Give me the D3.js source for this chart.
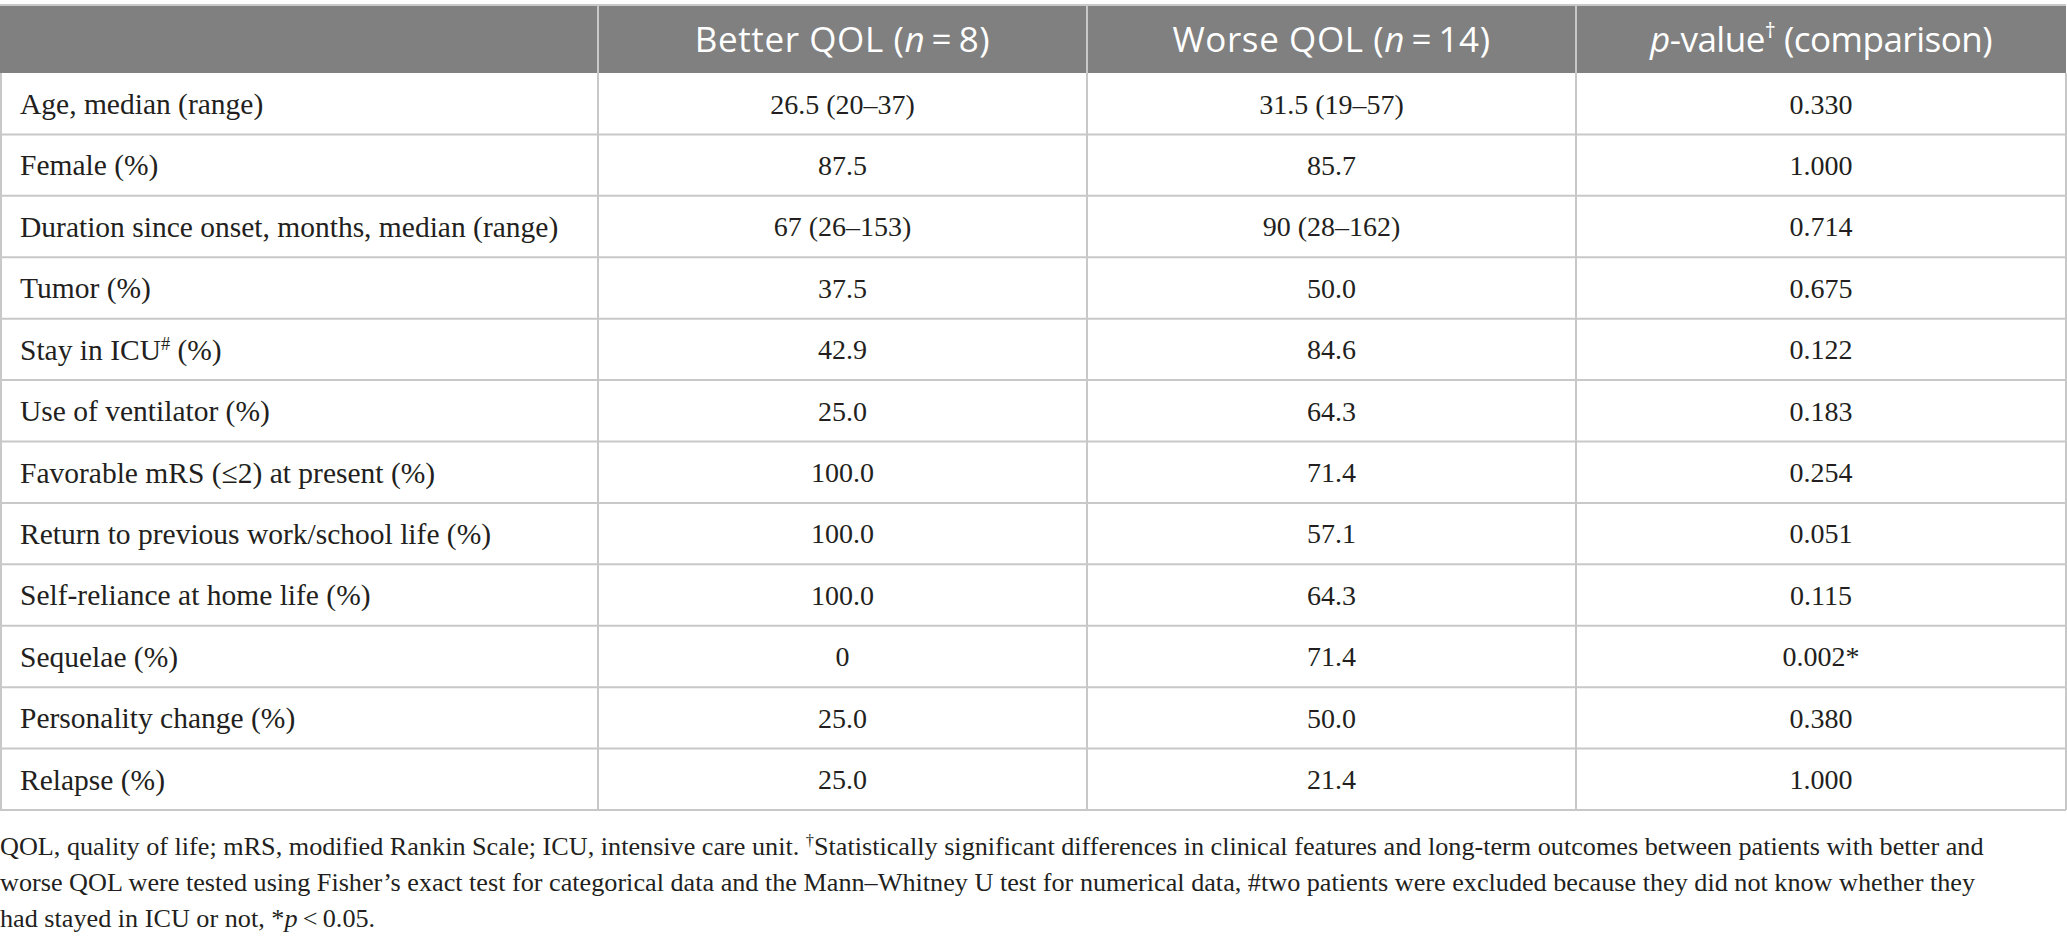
<!DOCTYPE html>
<meta charset="utf-8">
<style>
body { margin: 0; background: #fff; }
.cell-text { font-family: "Liberation Serif", serif; font-size: 28px; fill: #231f20; }
.cell-text.label { font-size: 29.5px; }
.head-text { font-family: "Open Sans", sans-serif; font-size: 35px; letter-spacing: 0.6px; fill: #fff; }
.head-text.last { letter-spacing: -0.5px; }
.note { font-family: "Liberation Serif", serif; font-size: 26.2px; fill: #231f20; }
.grid { stroke: #c8c8c8; stroke-width: 2px; }
</style>
<svg width="2067" height="940"></svg>
<script src="https://d3js.org/d3.v7.min.js"></script>
<script>

var headers = ["", "Better QOL (<i>n</i>\u2009=\u20098)", "Worse QOL (<i>n</i>\u2009=\u200914)", "<i>p</i>-value<sup>†</sup> (comparison)"];

var rowLabels = [
  "Age, median (range)",
  "Female (%)",
  "Duration since onset, months, median (range)",
  "Tumor (%)",
  "Stay in ICU<sup>#</sup> (%)",
  "Use of ventilator (%)",
  "Favorable mRS (≤2) at present (%)",
  "Return to previous work/school life (%)",
  "Self-reliance at home life (%)",
  "Sequelae (%)",
  "Personality change (%)",
  "Relapse (%)"
];

var betterQOL = ["26.5 (20–37)", "87.5", "67 (26–153)", "37.5", "42.9", "25.0", "100.0", "100.0", "100.0", "0", "25.0", "25.0"];
var worseQOL  = ["31.5 (19–57)", "85.7", "90 (28–162)", "50.0", "84.6", "64.3", "71.4", "57.1", "64.3", "71.4", "50.0", "21.4"];
var pValues   = ["0.330", "1.000", "0.714", "0.675", "0.122", "0.183", "0.254", "0.051", "0.115", "0.002*", "0.380", "1.000"];

var footnotes = [
  "QOL, quality of life; mRS, modified Rankin Scale; ICU, intensive care unit. <sup>†</sup>Statistically significant differences in clinical features and long-term outcomes between patients with better and",
  "worse QOL were tested using Fisher’s exact test for categorical data and the Mann–Whitney U test for numerical data, #two patients were excluded because they did not know whether they",
  "had stayed in ICU or not, *<i>p</i>\u2009<\u20090.05."
];

var svg = d3.select("svg"),
    tableTop = 5,
    headBottom = 73,
    tableBottom = 810,
    colEdges = [0, 598, 1087, 1576, 2066];

var y = d3.scaleBand().domain(d3.range(rowLabels.length)).range([headBottom, tableBottom]);
var colX = d3.scaleOrdinal().domain([0, 1, 2, 3]).range(colEdges.slice(0, 4));
function colW(i) { return colEdges[i + 1] - colEdges[i]; }

// text with <i> and <sup> bits
function rich(sel, str) {
  var italic = false, sup = false;
  str.split(/(<\/?(?:i|sup)>)/).forEach(function(p) {
    if (p === "<i>") italic = true;
    else if (p === "</i>") italic = false;
    else if (p === "<sup>") sup = true;
    else if (p === "</sup>") sup = false;
    else if (p) {
      var t = sel.append("tspan").text(p);
      if (italic) t.style("font-style", "italic");
      if (sup) t.attr("baseline-shift", "super").style("font-size", "62%");
    }
  });
}

// header band
svg.append("rect")
    .attr("x", 0).attr("y", tableTop)
    .attr("width", colEdges[4]).attr("height", headBottom - tableTop)
    .attr("fill", "#7f807f");

headers.forEach(function(h, i) {
  if (!h) return;
  svg.append("text")
      .attr("class", i === 3 ? "head-text last" : "head-text")
      .attr("x", colX(i) + colW(i) / 2)
      .attr("y", (tableTop + headBottom) / 2)
      .attr("dy", "0.36em")
      .attr("text-anchor", "middle")
      .call(rich, h);
});

// grid lines
var grid = svg.append("g").attr("class", "grid");
grid.append("line").attr("x1", 0).attr("x2", colEdges[4]).attr("y1", tableTop).attr("y2", tableTop);
grid.selectAll(".hline")
  .data(d3.range(rowLabels.length))
  .enter().append("line")
    .attr("x1", 0).attr("x2", colEdges[4])
    .attr("y1", function(d) { return y(d) + y.bandwidth(); })
    .attr("y2", function(d) { return y(d) + y.bandwidth(); });
grid.selectAll(".vline")
  .data(colEdges)
  .enter().append("line")
    .attr("x1", function(d) { return d === 0 ? 1 : d; })
    .attr("x2", function(d) { return d === 0 ? 1 : d; })
    .attr("y1", function(d, i) { return (i === 0 || i === 4) ? headBottom : tableTop; })
    .attr("y2", tableBottom);

// body
var rows = svg.selectAll(".row")
  .data(rowLabels.map(function(l, i) { return [l, betterQOL[i], worseQOL[i], pValues[i]]; }))
  .enter().append("g")
    .attr("class", "row")
    .attr("transform", function(d, i) { return "translate(0," + (y(i) + y.bandwidth() / 2) + ")"; });

rows.each(function(d) {
  var g = d3.select(this);
  d.forEach(function(v, j) {
    g.append("text")
        .attr("class", j === 0 ? "cell-text label" : "cell-text")
        .attr("x", j === 0 ? 20 : colX(j) + colW(j) / 2)
        .attr("dy", "0.35em")
        .attr("text-anchor", j === 0 ? "start" : "middle")
        .call(rich, v);
  });
});

// footnote
svg.selectAll(".note")
  .data(footnotes)
  .enter().append("text")
    .attr("class", "note")
    .attr("x", 0)
    .attr("y", function(d, i) { return 855 + i * 36; })
    .each(function(d) { rich(d3.select(this), d); });

</script>
